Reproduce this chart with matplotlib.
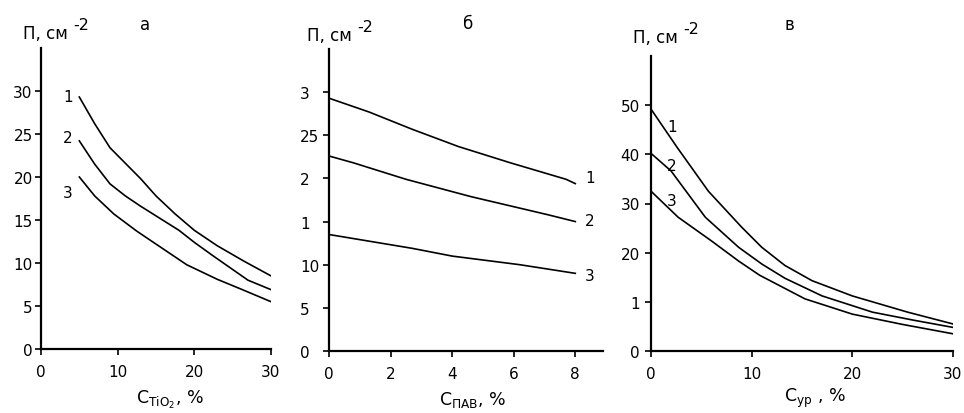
import matplotlib
matplotlib.use('Agg')
import matplotlib.pyplot as plt

plt.rcParams['font.family'] = ['DejaVu Sans']
plt.rcParams['mathtext.default'] = 'regular'

# Панель а: зависимость от содержания TiO2
x_a1 = [5, 7, 9, 11, 13, 15, 17.5, 20, 23, 26.5, 30]
y_a1 = [29.3, 26.2, 23.4, 21.6, 19.8, 17.8, 15.7, 13.8, 12.0, 10.2, 8.5]
x_a2 = [5, 7, 9, 11, 13, 15.5, 18, 20, 22.5, 27, 30]
y_a2 = [24.2, 21.5, 19.2, 17.8, 16.6, 15.2, 13.8, 12.4, 10.8, 8.0, 6.9]
x_a3 = [5, 7, 9.5, 12.5, 16, 19, 23, 26, 30]
y_a3 = [20.0, 17.8, 15.7, 13.7, 11.6, 9.8, 8.1, 7.0, 5.5]

# Панель б: зависимость от содержания ПАВ
x_b = [0, 1.3, 2.7, 4.2, 5.9, 7.7, 8]
y_b1 = [29.3, 27.7, 25.7, 23.7, 21.8, 19.9, 19.4]
x_b2 = [0, 0.8, 2.5, 4.6, 7.1, 8]
y_b2 = [22.6, 21.8, 19.9, 17.9, 15.8, 15.0]
x_b3 = [0, 2.7, 4, 6.2, 8]
y_b3 = [13.5, 11.9, 11.0, 10.0, 9.0]

# Панель в: зависимость от содержания ур
x_c1 = [0, 2.6, 5.7, 9, 11, 13.3, 16, 20, 25.5, 30]
y_c1 = [49.2, 41.4, 32.5, 25.2, 21.1, 17.4, 14.3, 11.2, 7.9, 5.5]
x_c2 = [0, 2, 5.4, 8.7, 11, 13.3, 17, 22, 26, 30]
y_c2 = [40.2, 36.6, 27.2, 21.1, 17.7, 14.8, 11.2, 7.9, 6.3, 4.8]
x_c3 = [0, 2.7, 6, 8.7, 10.8, 15.3, 20, 25, 30]
y_c3 = [32.5, 27.2, 22.4, 18.3, 15.4, 10.6, 7.5, 5.4, 3.5]

a_xticks = [0, 10, 20, 30]
a_yticks = [0, 5, 10, 15, 20, 25, 30]
b_xticks = [0, 2, 4, 6, 8]
b_yticks = [0, 5, 10, 15, 20, 25, 30]
b_ylabels = ['0', '5', '10', '1', '2', '25', '3']
c_xticks = [0, 10, 20, 30]
c_yticks = [0, 10, 20, 30, 40, 50]
c_ylabels = ['0', '1', '20', '30', '40', '50']

W, H = 964, 414
fig = plt.figure(figsize=(W / 100, H / 100), dpi=100)


def px_ax(left, right, top, bottom):
    return fig.add_axes([left / W, 1 - bottom / H, (right - left) / W, (bottom - top) / H])


def style(ax):
    for s in ['top', 'right']:
        ax.spines[s].set_visible(False)
    for s in ['left', 'bottom']:
        ax.spines[s].set_linewidth(1.6)
    ax.tick_params(direction='out', length=4, width=1.2, labelsize=11, pad=2)
    ax.tick_params(axis='x', pad=7)


def ftext(x, y, s, **kw):
    fig.text(x / W, 1 - y / H, s, ha=kw.pop('ha', 'center'), va=kw.pop('va', 'center'),
             fontsize=kw.pop('fontsize', 10.5), **kw)


# Панель а
ax1 = px_ax(41, 271, 49, 350)
for x, y in [(x_a1, y_a1), (x_a2, y_a2), (x_a3, y_a3)]:
    ax1.plot(x, y, color='black', linewidth=1.2)
ax1.set_xlim(0, 30)
ax1.set_ylim(0, 35)
ax1.set_xticks(a_xticks)
ax1.set_yticks(a_yticks)
style(ax1)

# Панель б
ax2 = px_ax(329, 603, 50, 352)
for x, y in [(x_b, y_b1), (x_b2, y_b2), (x_b3, y_b3)]:
    ax2.plot(x, y, color='black', linewidth=1.2)
ax2.set_xlim(0, 8.9)
ax2.set_ylim(0, 35)
ax2.set_xticks(b_xticks)
ax2.set_yticks(b_yticks)
ax2.set_yticklabels(b_ylabels)
style(ax2)
ax2.tick_params(axis='y', pad=17)
for lab in ax2.get_yticklabels():
    lab.set_horizontalalignment('left')

# Панель в
ax3 = px_ax(651, 953, 57, 352)
for x, y in [(x_c1, y_c1), (x_c2, y_c2), (x_c3, y_c3)]:
    ax3.plot(x, y, color='black', linewidth=1.2)
ax3.set_xlim(0, 30)
ax3.set_ylim(0, 60)
ax3.set_xticks(c_xticks)
ax3.set_yticks(c_yticks)
ax3.set_yticklabels(c_ylabels)
style(ax3)
ax3.tick_params(axis='y', pad=4)

# Подписи осей и панелей
for (x0, y0) in [(23, 34), (307, 36), (633, 38)]:
    ftext(x0, y0, 'П, см', fontsize=12, ha='left')
    ftext(x0 + 50, y0 - 9, '-2', fontsize=11.5, ha='left')

ftext(145, 25, 'а', fontsize=12)
ftext(468, 24, 'б', fontsize=12)
ftext(789, 25, 'в', fontsize=12)

ftext(170, 400, r'C$_{TiO_2}$, %', fontsize=12.5)
ftext(473, 400, r'C$_{ПАВ}$, %', fontsize=12.5)
ftext(815, 398, r'C$_{ур}$ , %', fontsize=12.5)

# Номера кривых
for (x0, y0, s) in [(68, 97, '1'), (68, 139, '2'), (68, 193, '3'),
                    (590, 179, '1'), (590, 222, '2'), (590, 277, '3'),
                    (672, 128, '1'), (672, 167, '2'), (672, 202, '3')]:
    ftext(x0, y0, s, fontsize=11)

fig.savefig('out.png', dpi=100)
